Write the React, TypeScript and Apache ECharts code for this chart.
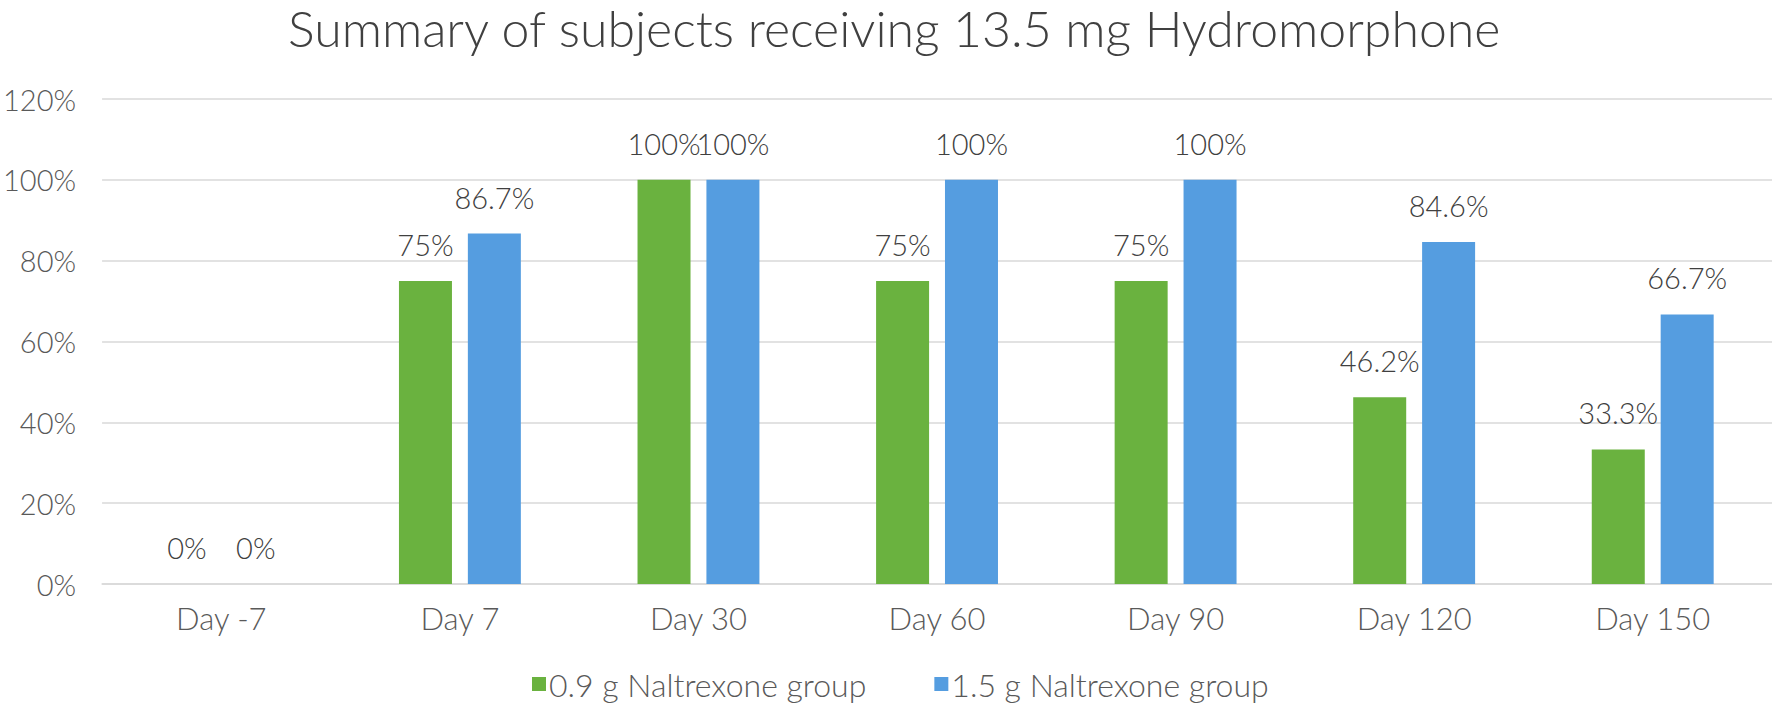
import React, { useEffect, useRef } from "react";
import * as echarts from "echarts";

const categories = ["Day -7", "Day 7", "Day 30", "Day 60", "Day 90", "Day 120", "Day 150"];
const group09 = [0, 75, 100, 75, 75, 46.2, 33.3];
const group15 = [0, 86.7, 100, 100, 100, 84.6, 66.7];
const seriesNames = ["0.9 g Naltrexone group", "1.5 g Naltrexone group"];
const yTicks = { min: 0, max: 120, interval: 20 };

const FONT = "Lato, 'Noto Sans', sans-serif";

export default function App() {
  const ref = useRef<HTMLDivElement>(null);
  useEffect(() => {
    if (!ref.current) return;
    const chart = echarts.init(ref.current, undefined, { renderer: "svg" });
    const label = {
      show: true,
      position: "top" as const,
      distance: 22,
      fontSize: 29,
      fontFamily: FONT,
      fontWeight: 300,
      color: "#404040",
      formatter: (p: any) => `${p.value}%`,
    };
    chart.setOption({
      animation: false,
      backgroundColor: "#ffffff",
      title: {
        text: "Summary of subjects receiving 13.5 mg Hydromorphone",
        left: 288,
        top: 1,
        padding: 0,
        textStyle: {
          fontSize: 50,
          lineHeight: 54,
          fontWeight: 300,
          fontFamily: FONT,
          color: "#404040",
        },
      },
      legend: {
        left: 527,
        top: 663,
        icon: "rect",
        itemWidth: 14,
        itemHeight: 14,
        itemGap: 68,
        textStyle: { fontSize: 32, fontFamily: FONT, fontWeight: 300, color: "#595959", padding: [0, 0, 0, -2] },
        data: seriesNames,
      },
      grid: { left: 99, right: 0, top: 99, bottom: 122 },
      xAxis: {
        type: "category",
        data: categories,
        axisLine: { lineStyle: { color: "#D9D9D9", width: 1.5 } },
        axisTick: { show: false },
        axisLabel: { fontSize: 31, fontFamily: FONT, fontWeight: 300, color: "#595959", margin: 18 },
      },
      yAxis: {
        type: "value",
        min: yTicks.min,
        max: yTicks.max,
        interval: yTicks.interval,
        axisLine: { show: false },
        axisTick: { show: false },
        splitLine: { lineStyle: { color: "#D9D9D9", width: 1.5 } },
        axisLabel: {
          formatter: "{value}%",
          fontSize: 29,
          fontFamily: FONT,
          fontWeight: 300,
          color: "#595959",
          margin: 26,
        },
      },
      series: [
        {
          name: seriesNames[0],
          type: "bar",
          data: group09,
          barWidth: 53,
          barGap: "30%",
          itemStyle: { color: "#6AB23F" },
          label,
        },
        {
          name: seriesNames[1],
          type: "bar",
          data: group15,
          barWidth: 53,
          barGap: "30%",
          itemStyle: { color: "#559DE0" },
          label,
        },
      ],
    });
    return () => chart.dispose();
  }, []);
  return (
    <div
      ref={ref}
      style={{ position: "fixed", left: 0, top: 0, width: 1772, height: 706, background: "#fff" }}
    />
  );
}
